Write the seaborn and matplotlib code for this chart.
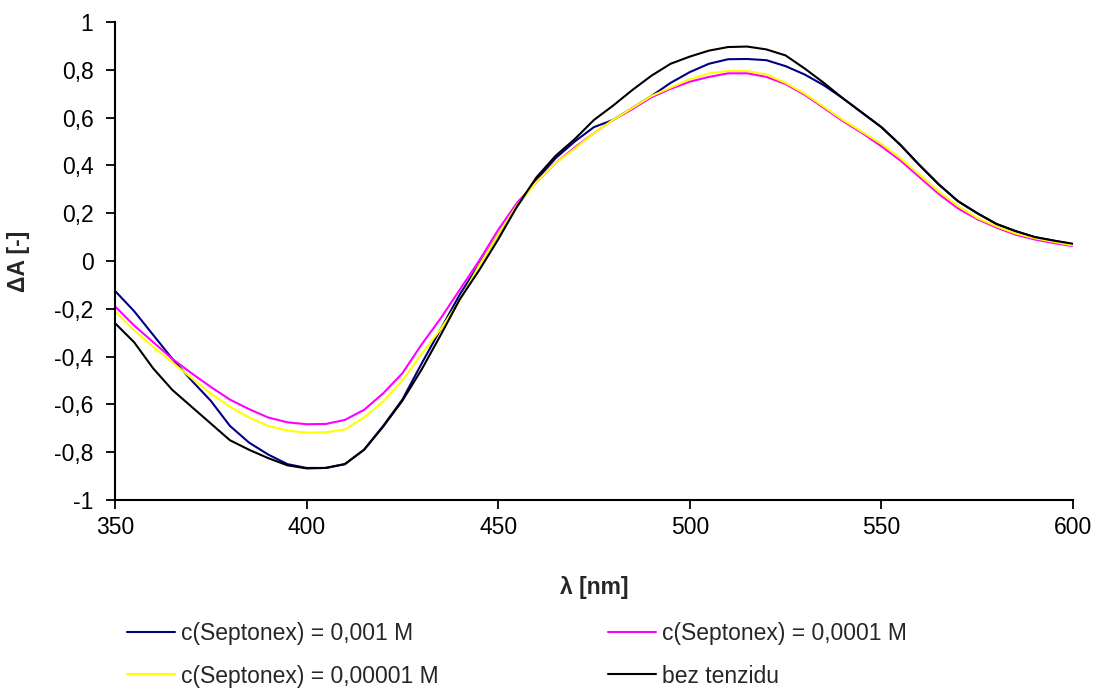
import numpy as np
import pandas as pd
import matplotlib
matplotlib.use("Agg")
import matplotlib.pyplot as plt
import seaborn as sns
from matplotlib.ticker import FixedLocator, FuncFormatter

# vlnová délka [nm]
wl = [350, 355, 360, 365, 370, 375, 380, 385, 390, 395,
      400, 405, 410, 415, 420, 425, 430, 435, 440, 445,
      450, 455, 460, 465, 470, 475, 480, 485, 490, 495,
      500, 505, 510, 515, 520, 525, 530, 535, 540, 545,
      550, 555, 560, 565, 570, 575, 580, 585, 590, 595, 600]

# c(Septonex) = 0,001 M
dA_1e3 = [-0.125, -0.21, -0.31, -0.41, -0.50, -0.585, -0.69, -0.76, -0.81, -0.85,
          -0.866, -0.866, -0.85, -0.79, -0.69, -0.58, -0.43, -0.285, -0.14, -0.015,
          0.11, 0.23, 0.34, 0.43, 0.50, 0.56, 0.59, 0.64, 0.69, 0.745,
          0.79, 0.825, 0.844, 0.845, 0.84, 0.815, 0.78, 0.735, 0.68, 0.62,
          0.56, 0.485, 0.40, 0.32, 0.25, 0.20, 0.155, 0.125, 0.10, 0.085, 0.07]

# c(Septonex) = 0,0001 M
dA_1e4 = [-0.19, -0.27, -0.34, -0.41, -0.47, -0.527, -0.58, -0.62, -0.655, -0.675,
          -0.683, -0.682, -0.665, -0.623, -0.554, -0.47, -0.35, -0.24, -0.12, 0.0,
          0.13, 0.245, 0.33, 0.41, 0.475, 0.535, 0.59, 0.635, 0.685, 0.72,
          0.75, 0.77, 0.785, 0.785, 0.77, 0.74, 0.695, 0.64, 0.585, 0.535,
          0.48, 0.42, 0.35, 0.28, 0.22, 0.175, 0.14, 0.11, 0.09, 0.075, 0.062]

# c(Septonex) = 0,00001 M
dA_1e5 = [-0.21, -0.29, -0.36, -0.425, -0.49, -0.555, -0.61, -0.655, -0.69, -0.71,
          -0.718, -0.717, -0.705, -0.655, -0.588, -0.50, -0.39, -0.285, -0.165, -0.02,
          0.11, 0.235, 0.33, 0.41, 0.47, 0.535, 0.59, 0.64, 0.69, 0.725,
          0.76, 0.785, 0.795, 0.795, 0.78, 0.745, 0.70, 0.645, 0.59, 0.54,
          0.49, 0.43, 0.36, 0.29, 0.23, 0.18, 0.145, 0.115, 0.095, 0.08, 0.065]

# bez tenzidu
dA_0 = [-0.26, -0.34, -0.45, -0.54, -0.61, -0.68, -0.75, -0.79, -0.825, -0.855,
        -0.868, -0.866, -0.85, -0.79, -0.693, -0.585, -0.455, -0.31, -0.16, -0.04,
        0.09, 0.23, 0.35, 0.44, 0.51, 0.59, 0.65, 0.715, 0.775, 0.825,
        0.855, 0.88, 0.895, 0.897, 0.885, 0.86, 0.805, 0.745, 0.68, 0.62,
        0.56, 0.485, 0.40, 0.32, 0.25, 0.20, 0.155, 0.125, 0.10, 0.085, 0.072]

labels = ["c(Septonex) = 0,001 M", "c(Septonex) = 0,0001 M",
          "c(Septonex) = 0,00001 M", "bez tenzidu"]
series = [dA_1e3, dA_1e4, dA_1e5, dA_0]
colors = ["#000080", "#FF00FF", "#FFFF00", "#000000"]

df = pd.concat([pd.DataFrame({"wl": wl, "dA": s, "serie": lab})
                for s, lab in zip(series, labels)], ignore_index=True)

sns.set_style("white")
plt.rcParams["font.family"] = ["Liberation Sans", "DejaVu Sans"]
plt.rcParams["axes.unicode_minus"] = False

fig = plt.figure(figsize=(10.99, 6.9), dpi=100)
ax = fig.add_axes([0.1046, 0.2754, 0.8717, 0.6928])

sns.lineplot(data=df, x="wl", y="dA", hue="serie", hue_order=labels,
             palette=colors, linewidth=1.5, ax=ax, sort=False)

ax.set_xlim(350, 600)
ax.set_ylim(-1, 1)
ax.xaxis.set_major_locator(FixedLocator([350, 400, 450, 500, 550, 600]))
ax.yaxis.set_major_locator(FixedLocator(np.round(np.arange(-1, 1.01, 0.2), 1)))


def carka(v, pos):
    v = round(v, 1)
    if v == 0:
        return "0"
    return f"{v:g}".replace(".", ",")


ax.yaxis.set_major_formatter(FuncFormatter(carka))
ax.tick_params(axis="both", direction="out", length=6.5, width=1.3,
               labelsize=16.5, colors="black", bottom=True, left=True)
ax.tick_params(axis="y", pad=9)
ax.tick_params(axis="x", pad=5)

for side in ["top", "right"]:
    ax.spines[side].set_visible(False)
for side in ["left", "bottom"]:
    ax.spines[side].set_color("black")
    ax.spines[side].set_linewidth(1.5)

ax.set_xlabel("λ [nm]", fontsize=16.5, fontweight="bold")
ax.set_ylabel("ΔA [-]", fontsize=16.5, fontweight="bold")
ax.xaxis.set_label_coords(0.5, -0.184)
ax.xaxis.label.set_verticalalignment("center")
ax.yaxis.set_label_coords(-0.101, 0.5)
ax.yaxis.label.set_verticalalignment("center")

# legenda pod grafem, po řádcích
h, l = ax.get_legend_handles_labels()
ax.get_legend().remove()
order = [0, 2, 1, 3]
fig.legend([h[i] for i in order], [l[i] for i in order], ncol=2,
           loc="upper left", bbox_to_anchor=(0.1156, 0.0985), frameon=False,
           fontsize=16.5, handlelength=2.1, handletextpad=0.25,
           columnspacing=7.4, labelspacing=0.85, borderpad=0, borderaxespad=0)

fig.savefig("out.png", dpi=100)
